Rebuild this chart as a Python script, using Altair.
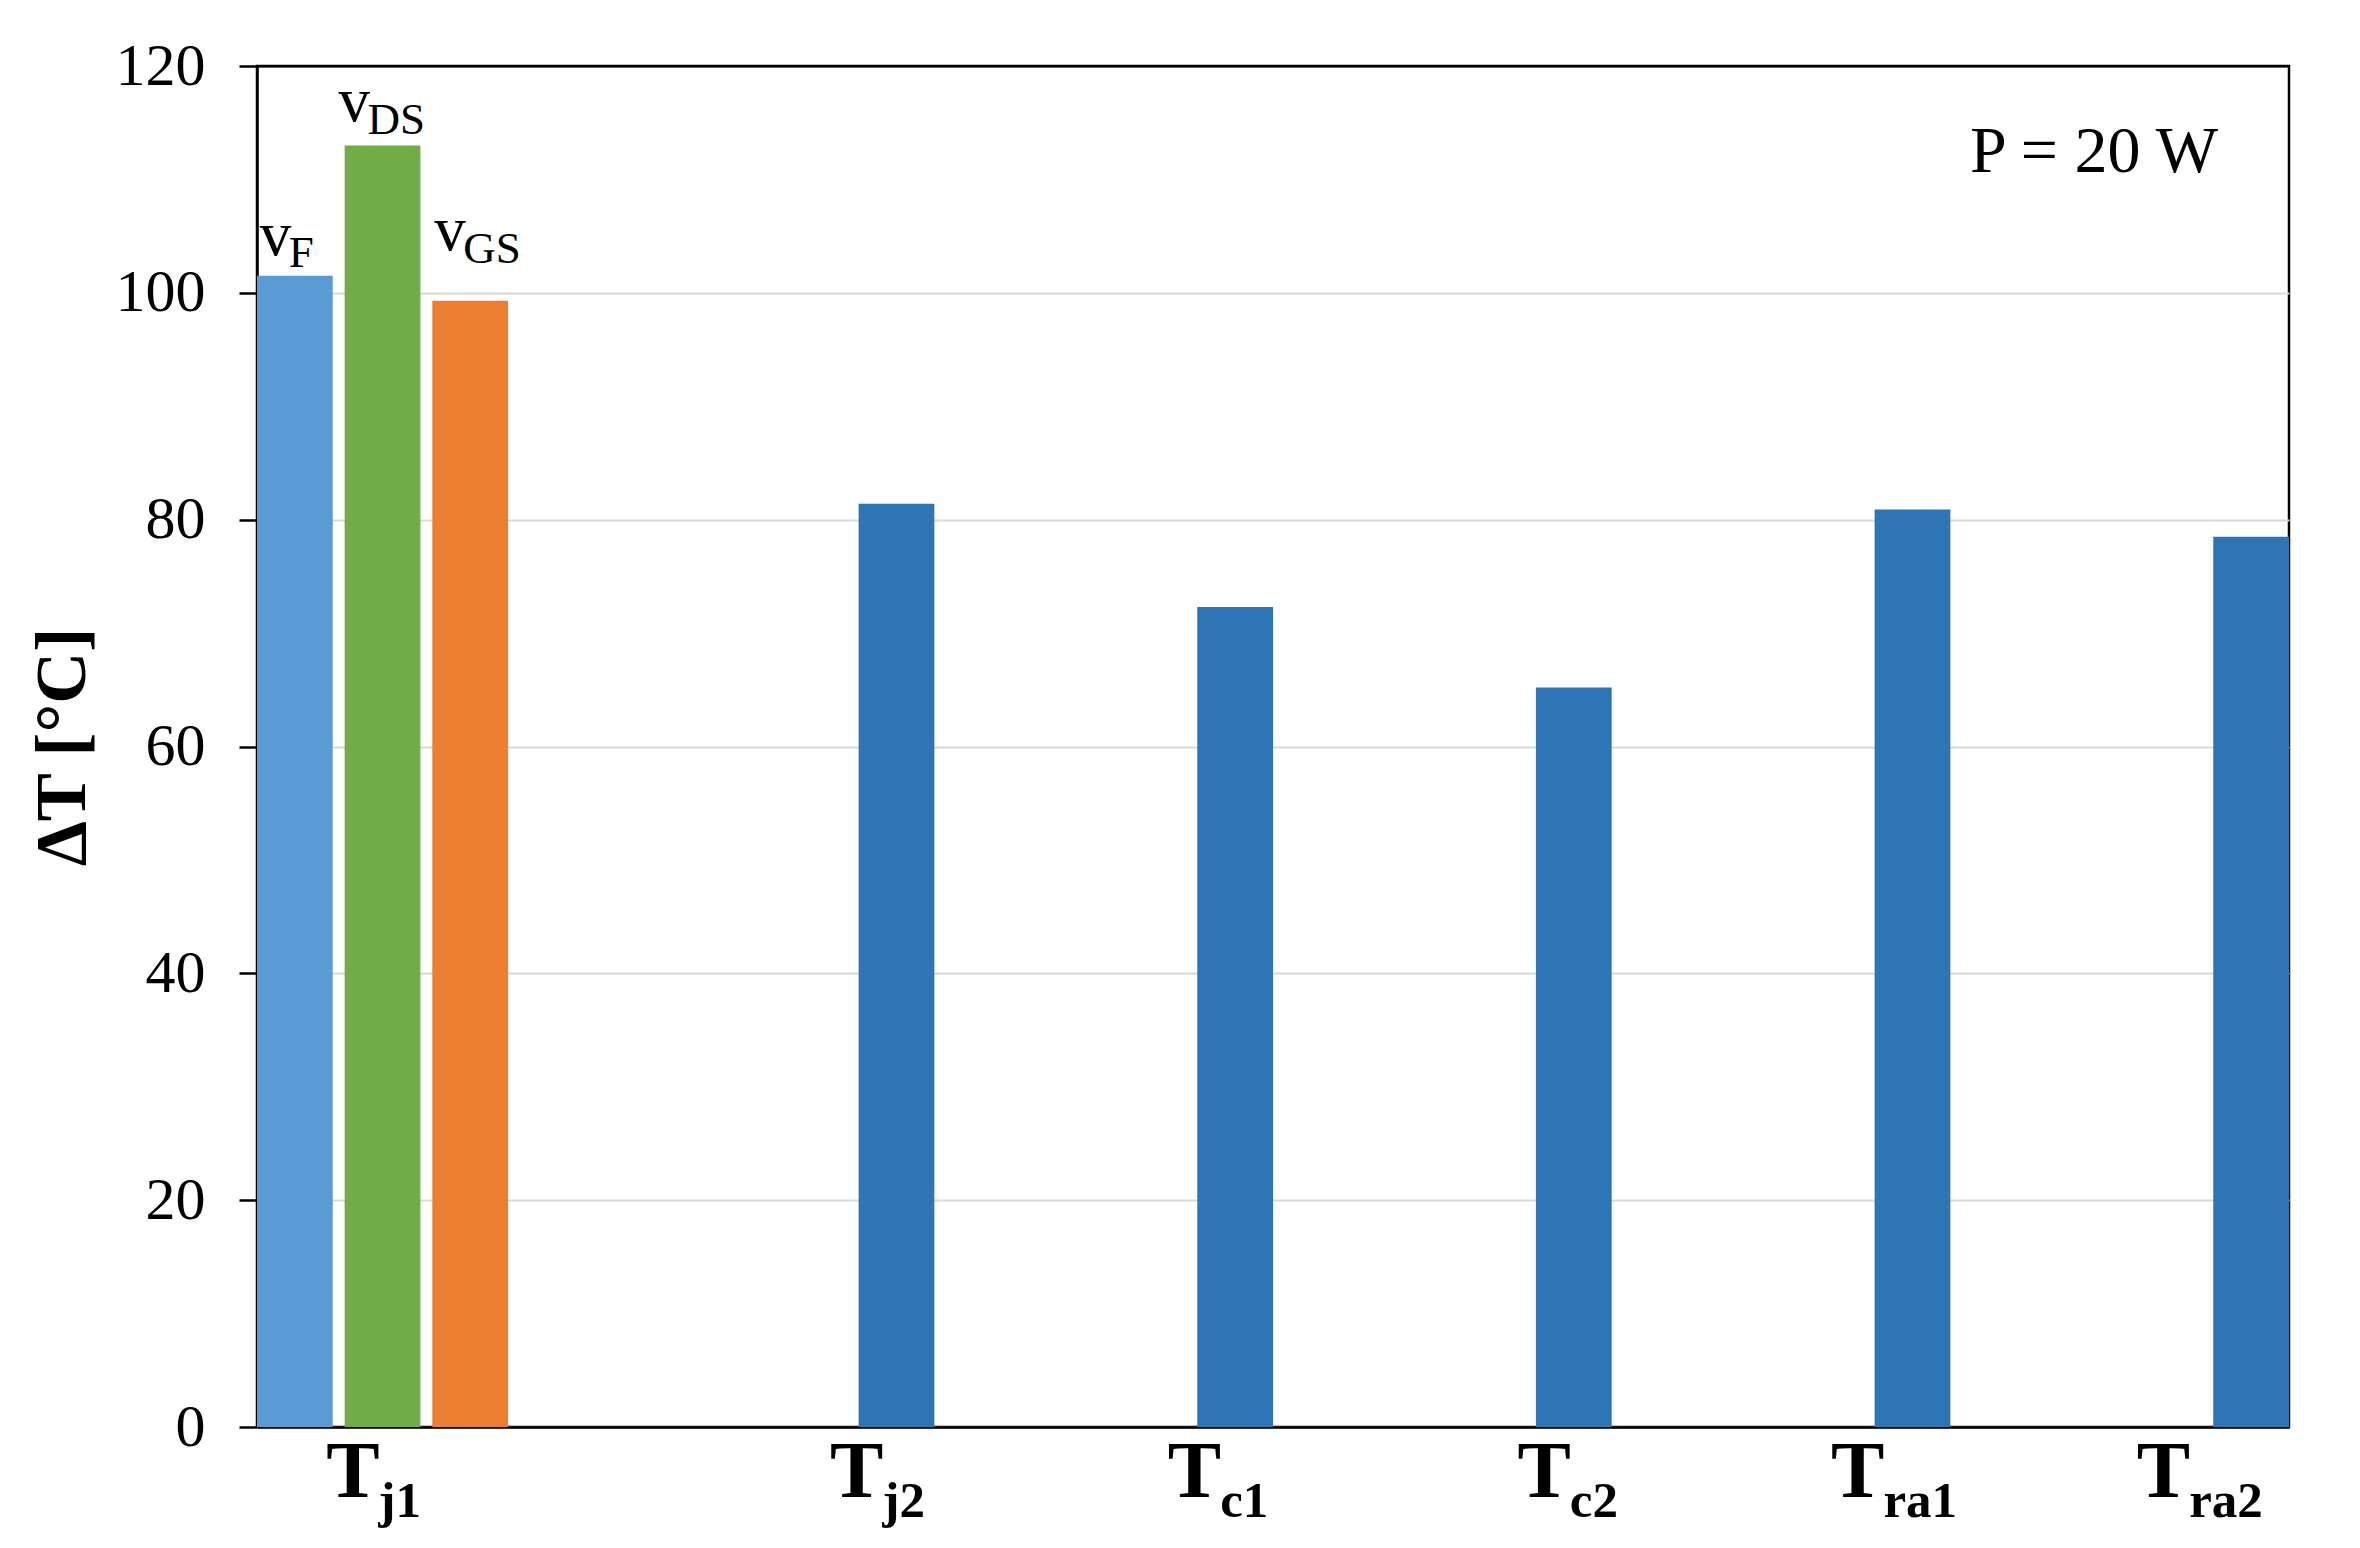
import altair as alt
import pandas as pd

# ---------------- data ----------------
categories = ["Tj1", "Tj2", "Tc1", "Tc2", "Tra1", "Tra2"]
series_order = ["vF", "vDS", "vGS", "T"]
series_colors = ["#5B9BD5", "#70AD47", "#ED7D31", "#2E75B6"]

tj1_series = ["vF", "vDS", "vGS"]
tj1_values = [101.5, 113.0, 99.3]

other_categories = ["Tj2", "Tc1", "Tc2", "Tra1", "Tra2"]
other_values = [81.4, 72.3, 65.2, 80.9, 78.5]

bar_label_main = ["v", "v", "v"]
bar_label_sub = ["F", "DS", "GS"]

x_label_main = ["T", "T", "T", "T", "T", "T"]
x_label_sub = ["j1", "j2", "c1", "c2", "ra1", "ra2"]
x_label_slot = ["vDS", "T", "T", "T", "T", "T"]

y_ticks = [0, 20, 40, 60, 80, 100, 120]
annotation = "P = 20 W"

FONT = "Liberation Serif"

# ---------------- shared encodings ----------------
bars_df = pd.DataFrame({
    "category": ["Tj1"] * len(tj1_series) + other_categories,
    "series": tj1_series + ["T"] * len(other_categories),
    "value": tj1_values + other_values,
})

X = alt.X("category:N",
          scale=alt.Scale(domain=categories, paddingInner=0, paddingOuter=0),
          axis=alt.Axis(labels=False, ticks=False, title=None, domain=True,
                        domainColor="black", domainWidth=2.5, grid=False))
XO = alt.XOffset("series:N",
                 scale=alt.Scale(domain=series_order, paddingInner=0.136, paddingOuter=0))
Y = alt.Y("value:Q",
          scale=alt.Scale(domain=[0, 120], nice=False),
          axis=alt.Axis(values=y_ticks, title="ΔT [°C]", grid=True,
                        gridColor={"condition": {"test": "datum.value >= 120", "value": "black"},
                                   "value": "#d9d9d9"},
                        gridWidth=2,
                        labelFont=FONT, labelFontSize=60, labelColor="black",
                        titleFont=FONT, titleFontSize=72, titleFontWeight="bold", titleColor="black",
                        tickColor="black", tickSize=18, tickWidth=2.5,
                        domainColor="black", domainWidth=2.5,
                        labelPadding=34, titlePadding=16))

bars = alt.Chart(bars_df).mark_bar().encode(
    x=X, xOffset=XO, y=Y,
    color=alt.Color("series:N", scale=alt.Scale(domain=series_order, range=series_colors), legend=None),
)

layers = [bars]

# bar labels (v_F, v_DS, v_GS)
v_dx = [-35, -44, -36]
v_dy = [-21, -24, -51]
s_dx = [-6, -15, -7]
s_dy = [-9, -11, -38]
for i in range(len(tj1_series)):
    df = pd.DataFrame({"category": ["Tj1"], "series": [tj1_series[i]], "value": [tj1_values[i]],
                       "main": [bar_label_main[i]], "sub": [bar_label_sub[i]]})
    layers.append(alt.Chart(df).mark_text(font=FONT, fontSize=63, color="black", align="left",
                                          baseline="alphabetic", dx=v_dx[i], dy=v_dy[i])
                  .encode(x=X, xOffset=XO, y=Y, text="main:N"))
    layers.append(alt.Chart(df).mark_text(font=FONT, fontSize=45, color="black", align="left",
                                          baseline="alphabetic", dx=s_dx[i], dy=s_dy[i])
                  .encode(x=X, xOffset=XO, y=Y, text="sub:N"))

# category labels T_xx
label_shift = [-4, -14, -15, -4, -29, -62]
for i in range(len(categories)):
    df = pd.DataFrame({"category": [categories[i]], "series": [x_label_slot[i]],
                       "main": [x_label_main[i]], "sub": [x_label_sub[i]]})
    layers.append(alt.Chart(df).mark_text(font=FONT, fontSize=80, fontWeight="bold", color="black",
                                          align="right", baseline="alphabetic",
                                          dx=label_shift[i] + 1, dy=70)
                  .encode(x=X, xOffset=XO, y=alt.datum(0), text="main:N"))
    layers.append(alt.Chart(df).mark_text(font=FONT, fontSize=51, fontWeight="bold", color="black",
                                          align="left", baseline="alphabetic",
                                          dx=label_shift[i], dy=90)
                  .encode(x=X, xOffset=XO, y=alt.datum(0), text="sub:N"))

ann = alt.Chart(pd.DataFrame({"t": [annotation]})).mark_text(
    font=FONT, fontSize=66, color="black", align="right", baseline="alphabetic"
).encode(x=alt.value(1961), y=alt.value(106), text="t:N")
layers.append(ann)

chart = alt.layer(*layers).properties(
    width=2032, height=1361,
    autosize=alt.AutoSizeParams(type="none"),
    padding={"left": 249, "top": 58, "right": 63, "bottom": 113},
    background="white",
).configure_view(
    stroke="black", strokeWidth=2.5
)

chart.save("out.html", embed_options={"renderer": "svg", "actions": False})
